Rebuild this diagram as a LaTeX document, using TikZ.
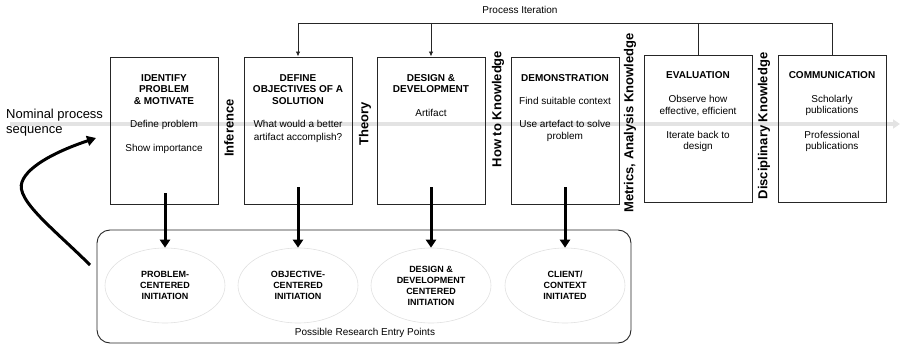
\documentclass[tikz,border=0pt]{standalone}
\usepackage{fontspec}
\setmainfont{Liberation Sans}
\usetikzlibrary{arrows.meta,shapes.geometric}
\begin{document}
\begin{tikzpicture}[x=1pt,y=-1pt,
  stage/.style={draw=black!85, line width=0.9pt, minimum width=108pt, minimum height=147pt, inner sep=0pt},
  ttl/.style={font=\fontsize{10}{11.5}\selectfont\bfseries, align=center, inner sep=0pt},
  txt/.style={font=\fontsize{10}{12.5}\selectfont, align=center, inner sep=0pt},
  knw/.style={font=\fontsize{13}{15}\selectfont\bfseries, rotate=90, inner sep=0pt},
  entry/.style={draw=black!12, line width=0.6pt, ellipse, minimum width=120pt, minimum height=75pt, inner sep=0pt, font=\fontsize{9}{11}\selectfont\bfseries, align=center},
  iter/.style={draw=black!85, line width=0.9pt},
  iterarrow/.style={iter, -{Latex[length=5pt,width=4.5pt]}},
  bigarrow/.style={draw=black, line width=3pt, -{Triangle[length=8pt,width=10pt]}},
  nominal/.style={draw=black!11, line width=3.5pt, -{Triangle[length=7pt,width=9pt]}},
  note/.style={font=\fontsize{10}{12}\selectfont, inner sep=0pt}
]
\useasboundingbox (0,0) rectangle (900,345);

% nominal process sequence (drawn first, behind the stages)
\coordinate (nl) at (10,124);
\coordinate (nr) at (900,124);
\draw[nominal] (nl) -- (nr);
\node[anchor=west, align=left, inner sep=0pt, font=\fontsize{13}{15}\selectfont] (nom) at (6,122.5) {Nominal process\\sequence};

% process stages
\node[stage] (b1) at (164,130.5) {};
\node[stage] (b2) at (298,130.5) {};
\node[stage] (b3) at (431,130.5) {};
\node[stage] (b4) at (565,130.5) {};
\node[stage] (b5) at (698,128.5) {};
\node[stage] (b6) at (832,128.5) {};

\node[ttl] (t1) at (164,89.5) {IDENTIFY\\PROBLEM\\\& MOTIVATE};
\node[txt] (t1a) at (164,125) {Define problem};
\node[txt] (t1b) at (164,149) {Show importance};

\node[ttl] (t2) at (298,89.5) {DEFINE\\OBJECTIVES OF A\\SOLUTION};
\node[txt] (t2a) at (298,131.5) {What would a better\\artifact accomplish?};

\node[ttl] (t3) at (431,83.5) {DESIGN \&\\DEVELOPMENT};
\node[txt] (t3a) at (431,113) {Artifact};

\node[ttl] (t4) at (565,78) {DEMONSTRATION};
\node[txt] (t4a) at (565,101) {Find suitable context};
\node[txt] (t4b) at (565,131) {Use artefact to solve\\problem};

\node[ttl] (t5) at (698,75) {EVALUATION};
\node[txt, font=\fontsize{10}{11.5}\selectfont] (t5a) at (698,105.5) {Observe how\\effective, efficient};
\node[txt, font=\fontsize{10}{11.5}\selectfont] (t5b) at (698,141.5) {Iterate back to\\design};

\node[ttl] (t6) at (832,75) {COMMUNICATION};
\node[txt, font=\fontsize{10}{11.5}\selectfont] (t6a) at (832,105.5) {Scholarly\\publications};
\node[txt, font=\fontsize{10}{11.5}\selectfont] (t6b) at (832,141.5) {Professional\\publications};

% knowledge between stages
\node[knw] (k1) at (229,128) {Inference};
\node[knw] (k2) at (365,124) {Theory};
\node[knw] (k3) at (498,109) {How to Knowledge};
\node[knw] (k4) at (630,123) {Metrics, Analysis Knowledge};
\node[knw] (k5) at (764,126) {Disciplinary Knowledge};

% process iteration
\coordinate (pil) at (298,23);
\coordinate (pir) at (832,23);
\node[note] (pit) at (520,10) {Process Iteration};
\draw[iter] (pil) -- (pir);
\draw[iterarrow] (pil) -- (b2.north);
\draw[iterarrow] (b3.north |- pil) -- (b3.north);
\draw[iter] (b5.north |- pil) -- (b5.north);
\draw[iter] (pir) -- (b6.north);

% research entry points
\node[draw=black!85, line width=0.9pt, rounded corners=13pt, minimum width=534pt, minimum height=113pt, inner sep=0pt] (ep) at (364,286.5) {};
\node[note] (ept) at (365,333) {Possible Research Entry Points};

\node[entry] (e1) at (165,285.5) {PROBLEM-\\CENTERED\\INITIATION};
\node[entry] (e2) at (298,285.5) {OBJECTIVE-\\CENTERED\\INITIATION};
\node[entry] (e3) at (431,285.5) {DESIGN \&\\DEVELOPMENT\\CENTERED\\INITIATION};
\node[entry] (e4) at (565,285.5) {CLIENT/\\CONTEXT\\INITIATED};

\coordinate (s1) at (165,193);
\coordinate (s2) at (298,187);
\coordinate (s3) at (431,187);
\coordinate (s4) at (565,187);
\draw[bigarrow] (s1) -- (e1.north);
\draw[bigarrow] (s2) -- (e2.north);
\draw[bigarrow] (s3) -- (e3.north);
\draw[bigarrow] (s4) -- (e4.north);

% entry into the nominal sequence
\coordinate (cs) at (90,265);
\coordinate (cm) at (22,182);
\coordinate (ce) at (96,138);
\draw[draw=black, line width=3pt, -{Triangle[length=9pt,width=10pt]}]
  (cs) .. controls (55,230) and (15,200) .. (cm)
       .. controls (28,165) and (60,150) .. (ce);
\end{tikzpicture}
\end{document}
